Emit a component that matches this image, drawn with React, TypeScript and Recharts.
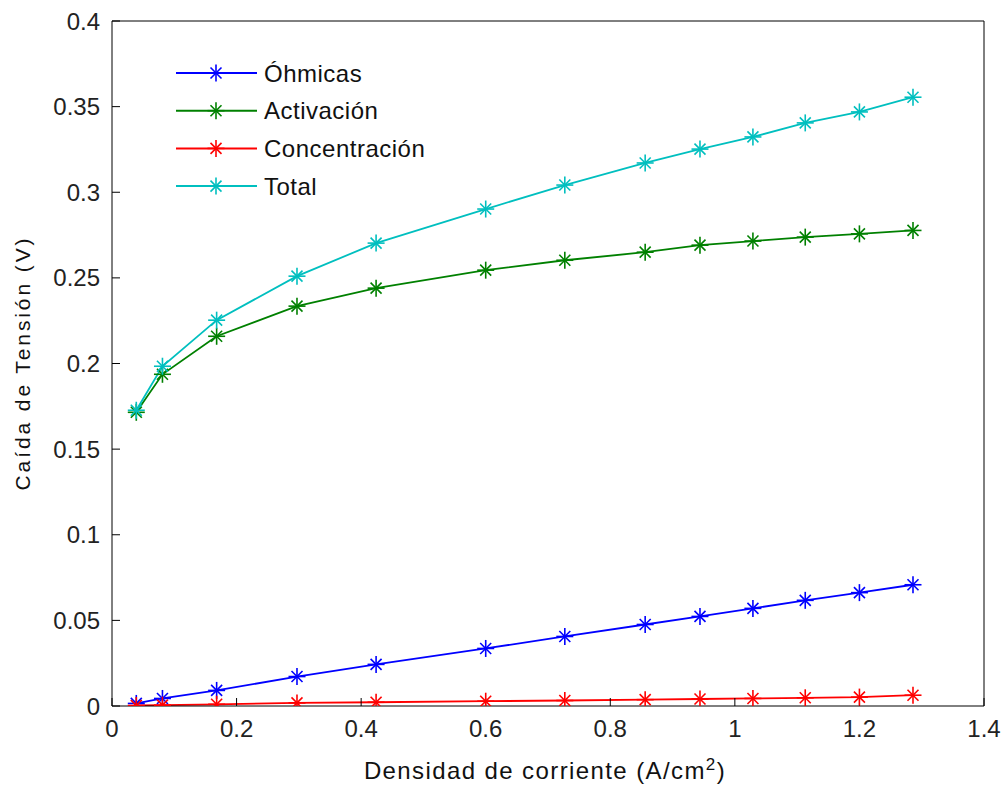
import React from "react";
import { LineChart, Line, XAxis, YAxis, Customized } from "recharts";

// current density (A/cm2) and voltage losses (V)
const currentDensity = [0.039, 0.081, 0.168, 0.297, 0.424, 0.6, 0.727, 0.856, 0.944, 1.029, 1.113, 1.2, 1.286];
const ohmic = [0.0015, 0.0044, 0.0091, 0.0172, 0.0243, 0.0336, 0.0406, 0.0476, 0.0523, 0.057, 0.0617, 0.0662, 0.0708];
const activation = [0.1715, 0.1937, 0.2159, 0.2335, 0.244, 0.2545, 0.2603, 0.265, 0.2691, 0.2715, 0.2738, 0.2757, 0.2777];
const concentration = [0.0003, 0.0005, 0.001, 0.0018, 0.0022, 0.0028, 0.0032, 0.0037, 0.0041, 0.0044, 0.0048, 0.0052, 0.0063];
const total = [0.1727, 0.1984, 0.2253, 0.251, 0.2703, 0.2902, 0.3042, 0.3171, 0.3252, 0.3323, 0.3405, 0.3469, 0.3555];

const xTicks = [0, 0.2, 0.4, 0.6, 0.8, 1, 1.2, 1.4];
const yTicks = [0, 0.05, 0.1, 0.15, 0.2, 0.25, 0.3, 0.35, 0.4];

const seriesList = [
  { key: "ohmic", name: "Óhmicas", color: "#0000ff" },
  { key: "activation", name: "Activación", color: "#008000" },
  { key: "concentration", name: "Concentración", color: "#ff0000" },
  { key: "total", name: "Total", color: "#00bfbf" },
];

const data = currentDensity.map((x, i) => ({
  x,
  ohmic: ohmic[i],
  activation: activation[i],
  concentration: concentration[i],
  total: total[i],
}));

const FONT = '"Liberation Sans", Arial, sans-serif';

function Star({ cx, cy, color }: { cx: number; cy: number; color: string }) {
  const r = 8.5;
  const d = 5.5;
  return (
    <g stroke={color} strokeWidth={1.6}>
      <line x1={cx - r} y1={cy} x2={cx + r} y2={cy} />
      <line x1={cx} y1={cy - r} x2={cx} y2={cy + r} />
      <line x1={cx - d} y1={cy - d} x2={cx + d} y2={cy + d} />
      <line x1={cx - d} y1={cy + d} x2={cx + d} y2={cy - d} />
    </g>
  );
}

const starDot = (color: string) => (props: any) => {
  const { cx, cy, index } = props;
  if (cx == null || cy == null) return <g key={index} />;
  return (
    <g key={index}>
      <Star cx={cx} cy={cy} color={color} />
    </g>
  );
};

function LegendBox() {
  return (
    <g fontFamily={FONT} fontSize={24}>
      {seriesList.map((s, i) => {
        const y = 73 + i * 37.7;
        return (
          <g key={s.key}>
            <line x1={176} y1={y} x2={257} y2={y} stroke={s.color} strokeWidth={2} />
            <Star cx={216} cy={y} color={s.color} />
            <text x={264} y={y} dominantBaseline="central" fill="#111" letterSpacing={0.5}>
              {s.name}
            </text>
          </g>
        );
      })}
    </g>
  );
}

const renderXTitle = (props: any) => {
  const vb = props.viewBox || {};
  const cx = (vb.x ?? 112) + (vb.width ?? 872) / 2 - 3;
  return (
    <text x={cx} y={779} textAnchor="middle" fontFamily={FONT} fontSize={24} letterSpacing={1.4} fill="#111">
      Densidad de corriente (A/cm
      <tspan dy={-9} fontSize={17}>2</tspan>
      <tspan dy={9}>)</tspan>
    </text>
  );
};

const renderYTitle = () => (
  <text
    x={22}
    y={363}
    transform="rotate(-90 22 363)"
    textAnchor="middle"
    dominantBaseline="central"
    fontFamily={FONT}
    fontSize={21}
    letterSpacing={2.9}
    fill="#111"
  >
    Caída de Tensión (V)
  </text>
);

export default function App() {
  const tickStyle = { fontFamily: FONT, fontSize: 24, fill: "#222" };
  return (
    <div style={{ position: "fixed", left: 0, top: 0, width: 1003, height: 785, background: "#fff" }}>
      <LineChart width={1003} height={785} data={data} margin={{ top: 20, right: 18, bottom: 0, left: 0 }}>
        <XAxis
          dataKey="x"
          type="number"
          domain={[0, 1.4]}
          ticks={xTicks}
          interval={0}
          allowDataOverflow
          height={79}
          tickSize={-8}
          tickMargin={22}
          stroke="#000"
          tick={tickStyle}
          label={renderXTitle}
        />
        <XAxis
          xAxisId="top"
          dataKey="x"
          orientation="top"
          type="number"
          domain={[0, 1.4]}
          ticks={xTicks}
          interval={0}
          allowDataOverflow
          height={1}
          tickSize={-8}
          tick={false}
          stroke="#000"
        />
        <YAxis
          type="number"
          domain={[0, 0.4]}
          ticks={yTicks}
          interval={0}
          allowDataOverflow
          width={112}
          tickSize={-8}
          tickMargin={20}
          stroke="#000"
          tick={tickStyle}
          label={renderYTitle}
        />
        <YAxis
          yAxisId="right"
          orientation="right"
          type="number"
          domain={[0, 0.4]}
          ticks={yTicks}
          interval={0}
          allowDataOverflow
          width={1}
          tickSize={-8}
          tick={false}
          stroke="#000"
        />
        {/* invisible series so the top/right frame axes get drawn */}
        <Line
          xAxisId="top"
          yAxisId="right"
          dataKey="total"
          stroke="none"
          dot={false}
          activeDot={false}
          legendType="none"
          isAnimationActive={false}
        />
        {seriesList.map((s) => (
          <Line
            key={s.key}
            type="linear"
            dataKey={s.key}
            name={s.name}
            stroke={s.color}
            strokeWidth={1.8}
            dot={starDot(s.color)}
            activeDot={false}
            isAnimationActive={false}
          />
        ))}
        <Customized component={<LegendBox />} />
      </LineChart>
    </div>
  );
}
